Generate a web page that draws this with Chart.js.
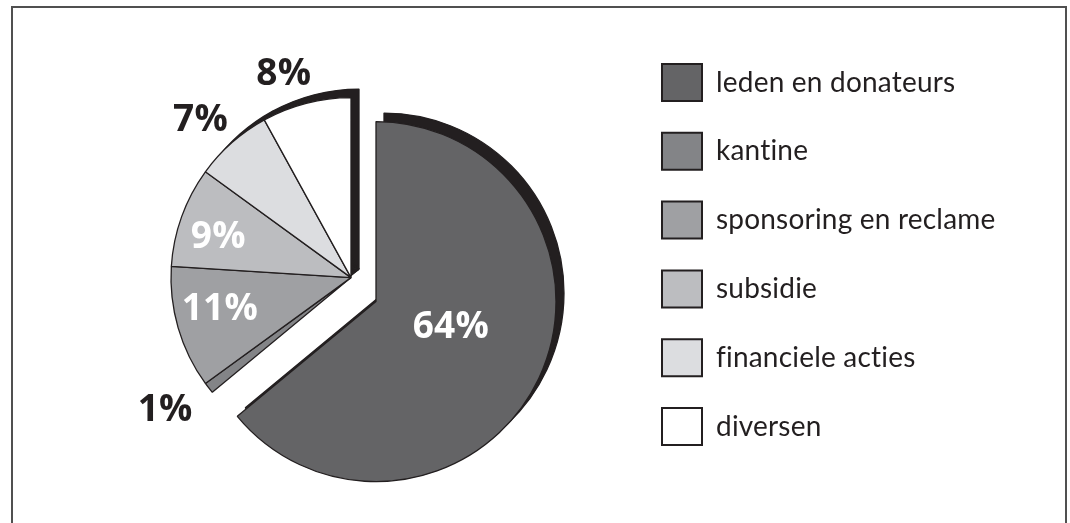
<!DOCTYPE html>
<html><head><meta charset="utf-8">
<script src="https://cdn.jsdelivr.net/npm/chart.js@4/dist/chart.umd.min.js"></script>
<style>
html,body{margin:0;padding:0;background:#fff;}
#wrap{position:relative;width:1070px;height:523px;overflow:hidden;background:#fff;}
#frame{position:absolute;left:11px;top:6px;width:1052px;height:540px;border:2px solid #505050;border-bottom:none;}
canvas{position:absolute;left:0;top:0;}
</style></head><body>
<div id="wrap"><div id="frame"></div><canvas id="c" width="1070" height="523"></canvas></div>
<script>
const categories = ['leden en donateurs','kantine','sponsoring en reclame','subsidie','financiele acties','diversen'];
const percentages = [64, 1, 11, 9, 7, 8];
const percentLabels = ['64%', '1%', '11%', '9%', '7%', '8%'];

const sliceColors = ['#646466','#838487','#9fa0a3','#bcbdc0','#dcdde0','#ffffff'];
const ink = '#231f20';

const textStylePlugin = {
  id: 'textStyle',
  beforeDraw(chart) {
    if ('letterSpacing' in chart.ctx) chart.ctx.letterSpacing = '0.2px';
  }
};

const legendWidthPlugin = {
  id: 'legendWidth',
  beforeLayout(chart, args, opts) {
    const lg = chart.legend;
    if (lg && !lg._fixedWidth) {
      const fit = lg.fit.bind(lg);
      lg.fit = function () { fit(); this.width = opts.width; };
      lg._fixedWidth = true;
    }
  }
};

const explodePlugin = {
  id: 'explodeSlice',
  afterDatasetsUpdate(chart, args, opts) {
    const arc = chart.getDatasetMeta(0).data[opts.index];
    if (arc) { arc.x += opts.dx; arc.y += opts.dy; }
  }
};

const shadowPlugin = {
  id: 'sliceShadow',
  beforeDatasetsDraw(chart, args, opts) {
    const ctx = chart.ctx;
    const meta = chart.getDatasetMeta(0);
    ctx.save();
    ctx.translate(opts.dx, opts.dy);
    meta.data.forEach(arc => {
      const o = arc.options;
      arc.options = Object.assign({}, o, {backgroundColor: opts.color, borderColor: opts.color});
      arc.draw(ctx);
      arc.options = o;
    });
    ctx.restore();
  }
};

const labelPlugin = {
  id: 'sliceLabels',
  afterDatasetsDraw(chart, args, opts) {
    const ctx = chart.ctx;
    const meta = chart.getDatasetMeta(0);
    ctx.save();
    ctx.font = opts.font;
    ctx.textAlign = 'center';
    ctx.textBaseline = 'middle';
    meta.data.forEach((arc, i) => {
      const mid = (arc.startAngle + arc.endAngle) / 2 + opts.angleShift[i] * Math.PI / 180;
      const r = arc.outerRadius * opts.radial[i];
      ctx.fillStyle = opts.colors[i];
      ctx.fillText(percentLabels[i], arc.x + Math.cos(mid) * r, arc.y + Math.sin(mid) * r);
    });
    ctx.restore();
  }
};

new Chart(document.getElementById('c'), {
  type: 'doughnut',
  data: {
    labels: categories,
    datasets: [{
      data: percentages,
      backgroundColor: sliceColors,
      borderColor: ink,
      borderWidth: 1.3,
      radius: 180,
      clip: false
    }]
  },
  options: {
    responsive: false,
    animation: false,
    events: [],
    cutout: 0,
    layout: { padding: { left: 71.8, right: 0, top: 32.2, bottom: 0 } },
    plugins: {
      tooltip: { enabled: false },
      legendWidth: { width: 439.8 },
      legend: {
        position: 'right',
        align: 'start',
        labels: {
          boxWidth: 40,
          boxHeight: 37,
          padding: 31.8,
          color: ink,
          font: { family: 'Lato', size: 28 },
          generateLabels(chart) {
            const items = Chart.overrides.doughnut.plugins.legend.labels.generateLabels(chart);
            items.forEach(it => { it.lineWidth = 2; it.strokeStyle = ink; });
            return items;
          }
        }
      },
      explodeSlice: { index: 0, dx: 25, dy: 24 },
      sliceShadow: { dx: 8, dy: -8.5, color: ink },
      sliceLabels: {
        font: 'bold 37px "Open Sans"',
        radial: [0.44, 1.27, 0.75, 0.77, 1.21, 1.19],
        angleShift: [-6, 2.2, 2.5, -3, -2.3, -3.9],
        colors: ['#ffffff', ink, '#ffffff', '#ffffff', ink, ink]
      }
    }
  },
  plugins: [textStylePlugin, legendWidthPlugin, explodePlugin, shadowPlugin, labelPlugin]
});
</script>
</body></html>
